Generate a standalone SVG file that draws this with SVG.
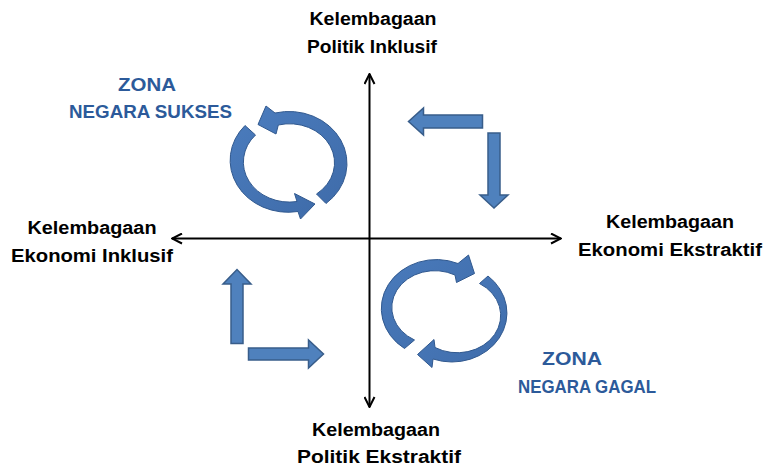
<svg xmlns="http://www.w3.org/2000/svg" width="764" height="468" viewBox="0 0 764 468">
<style>
  .lbl { font-family: "Liberation Sans", Arial, sans-serif; font-weight: bold; font-size: 18px; fill: #000; text-anchor: middle; }
  .zone { fill: #2C5A9A; }
  .axis { stroke: #000; stroke-width: 2; fill: none; }
  .blk { fill: #4F81BD; stroke: #385D8A; stroke-width: 1.5; stroke-linejoin: miter; }
  .circ { fill: url(#cg); stroke: #31598F; stroke-width: 1; }
</style>
<defs>
  <marker id="open" viewBox="0 0 12 12" refX="11" refY="6" markerWidth="6" markerHeight="6" markerUnits="strokeWidth" orient="auto-start-reverse">
    <path d="M1,1 L11,6 L1,11" fill="none" stroke="#000" stroke-width="2"/>
  </marker>
  <linearGradient id="cg" x1="0" y1="0" x2="1" y2="1">
    <stop offset="0" stop-color="#4A7BBC"/>
    <stop offset="1" stop-color="#3F6CAA"/>
  </linearGradient>
</defs>
<rect width="764" height="468" fill="#fff"/>

<g id="connectors">
  <line class="axis" x1="172" y1="238.5" x2="561" y2="238.5" marker-start="url(#open)" marker-end="url(#open)"/>
  <line class="axis" x1="369.5" y1="74" x2="369.5" y2="407" marker-start="url(#open)" marker-end="url(#open)"/>
</g>

<g id="cycle-sukses">
  <path class="circ" d="M245,125.5 A58,52 0 0,0 298,211.5 L300.5,219 L315,204 L294.5,193.5 L297,201.5 A46,40 0 0,1 255.5,135 Z"/>
  <path class="circ" d="M326,203.5 A58,52 0 0,0 275,113 L266,106 L258,124.5 L276,134 L278.3,125 A45,39 0 0,1 316.5,194 Z"/>
</g>

<g id="cycle-gagal">
  <path class="circ" d="M404.5,348.5 A55,49 0 0,1 458,263.5 L468.5,255 L474.5,273.5 L456.5,282.5 L455,275 A42,36 0 0,0 414.5,340 Z"/>
  <path class="circ" d="M488,276 A55,49 0 0,1 433,359 L432,367.5 L417.5,354.5 L434,339.5 L435,347.5 A42,36 0 0,0 479.5,283.5 Z"/>
</g>

<g id="arrows-topright">
  <path class="blk" d="M482.5,115 L423.5,115 L423.5,108 L408.5,121.5 L423.5,135 L423.5,128 L482.5,128 Z"/>
  <path class="blk" d="M488,133 L500,133 L500,195 L508,195 L494,208 L480,195 L488,195 Z"/>
</g>

<g id="arrows-bottomleft">
  <path class="blk" d="M231,343.5 L231,284 L223,284 L237,269.5 L251,284 L243,284 L243,343.5 Z"/>
  <path class="blk" d="M248.5,348 L308.5,348 L308.5,340 L323.5,354 L308.5,368 L308.5,360 L248.5,360 Z"/>
</g>

<g id="label-top">
  <text class="lbl" x="373" y="25" textLength="127" lengthAdjust="spacingAndGlyphs">Kelembagaan</text>
  <text class="lbl" x="372" y="52.5" textLength="130" lengthAdjust="spacingAndGlyphs">Politik Inklusif</text>
</g>
<g id="label-sukses">
  <text class="lbl zone" x="147" y="90.5" textLength="58" lengthAdjust="spacingAndGlyphs">ZONA</text>
  <text class="lbl zone" x="150.5" y="118" textLength="163" lengthAdjust="spacingAndGlyphs">NEGARA SUKSES</text>
</g>
<g id="label-left">
  <text class="lbl" x="92" y="233.5" textLength="129" lengthAdjust="spacingAndGlyphs">Kelembagaan</text>
  <text class="lbl" x="92" y="261.5" textLength="162" lengthAdjust="spacingAndGlyphs">Ekonomi Inklusif</text>
</g>
<g id="label-right">
  <text class="lbl" x="670" y="227.5" textLength="128" lengthAdjust="spacingAndGlyphs">Kelembagaan</text>
  <text class="lbl" x="670" y="255.5" textLength="184" lengthAdjust="spacingAndGlyphs">Ekonomi Ekstraktif</text>
</g>
<g id="label-gagal">
  <text class="lbl zone" x="572" y="364.5" textLength="60" lengthAdjust="spacingAndGlyphs">ZONA</text>
  <text class="lbl zone" x="587" y="392.5" textLength="138" lengthAdjust="spacingAndGlyphs">NEGARA GAGAL</text>
</g>
<g id="label-bottom">
  <text class="lbl" x="376" y="435.5" textLength="128" lengthAdjust="spacingAndGlyphs">Kelembagaan</text>
  <text class="lbl" x="379" y="462.5" textLength="164" lengthAdjust="spacingAndGlyphs">Politik Ekstraktif</text>
</g>
</svg>
